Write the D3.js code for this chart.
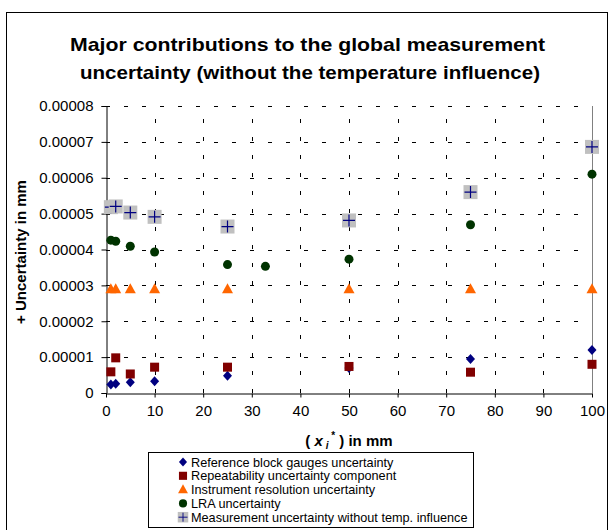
<!DOCTYPE html>
<html lang="en">
<head>
<meta charset="UTF-8">
<title>Major contributions to the global measurement uncertainty</title>
<script src="https://d3js.org/d3.v7.min.js"></script>
<style>
    body { margin: 0; background: white; font-family: "Liberation Sans", Arial, sans-serif; }
</style>
</head>
<body>
<div id="chart"></div>
<script>
// data (x in mm, uncertainty in mm)
const refX   = [1, 2, 5, 10, 25, 50, 75, 100];
const refY   = [0.0000024, 0.0000026, 0.0000030, 0.0000033, 0.0000048, 0.0000070, 0.0000095, 0.0000120];
const repX   = [1, 2, 5, 10, 25, 50, 75, 100];
const repY   = [0.0000059, 0.0000098, 0.0000053, 0.0000072, 0.0000072, 0.0000074, 0.0000058, 0.0000080];
const resX   = [1, 2, 5, 10, 25, 50, 75, 100];
const resY   = [0.0000289, 0.0000289, 0.0000289, 0.0000289, 0.0000289, 0.0000289, 0.0000289, 0.0000289];
const lraX   = [1, 2, 5, 10, 25, 32.8, 50, 75, 100];
const lraY   = [0.0000426, 0.0000423, 0.0000409, 0.0000393, 0.0000358, 0.0000353, 0.0000373, 0.0000469, 0.0000610];
const measX  = [1, 2, 5, 10, 25, 50, 75, 100];
const measY  = [0.0000518, 0.0000520, 0.0000503, 0.0000491, 0.0000464, 0.0000481, 0.0000560, 0.0000686];

const seriesNames = [
    "Reference block gauges uncertainty",
    "Repeatability uncertainty component",
    "Instrument resolution uncertainty",
    "LRA uncertainty",
    "Measurement uncertainty without temp. influence"
];
const xTicks = d3.range(0, 101, 10);
const yTicks = d3.range(0, 9).map(d => d * 0.00001);

const width = 614, height = 530;
const plot = { left: 106, right: 592, top: 106, bottom: 393 };

const svg = d3.select("#chart").append("svg")
    .attr("width", width).attr("height", height);

// outer chart border
svg.append("rect")
    .attr("x", 6.5).attr("y", 12.5).attr("width", 601).attr("height", 530)
    .attr("fill", "white").attr("stroke", "black").attr("stroke-width", 1);

const x = d3.scaleLinear().domain([0, 100]).range([plot.left, plot.right]);
const y = d3.scaleLinear().domain([0, 0.00008]).range([plot.bottom, plot.top]);

// title (stretched a bit wider, like the original)
const title = svg.append("g").attr("font-weight", "bold").attr("font-size", 19);
title.append("text").attr("x", 70).attr("y", 51)
    .attr("textLength", 475).attr("lengthAdjust", "spacingAndGlyphs")
    .text("Major contributions to the global measurement");
title.append("text").attr("x", 80).attr("y", 79)
    .attr("textLength", 460).attr("lengthAdjust", "spacingAndGlyphs")
    .text("uncertainty (without the temperature influence)");

// grid
const grid = svg.append("g").attr("stroke", "black").attr("stroke-width", 1).attr("stroke-dasharray", "4,14");
grid.selectAll(".hg").data(yTicks.filter(d => d > 0)).enter().append("line")
    .attr("x1", plot.left).attr("x2", plot.right)
    .attr("y1", d => Math.round(y(d)) + 0.5).attr("y2", d => Math.round(y(d)) + 0.5);
grid.selectAll(".vg").data(xTicks.filter(d => d > 0 && d < 100)).enter().append("line")
    .attr("y1", plot.bottom).attr("y2", plot.top)
    .attr("x1", d => Math.round(x(d)) + 0.5).attr("x2", d => Math.round(x(d)) + 0.5);

// right border of plot area
svg.append("line")
    .attr("x1", x(100) + 0.5).attr("x2", x(100) + 0.5)
    .attr("y1", plot.top).attr("y2", plot.bottom)
    .attr("stroke", "#808080");

// axes
const yAxis = d3.axisLeft(y).tickValues(yTicks).tickSize(5).tickPadding(8)
    .tickFormat(d => d === 0 ? "0" : d.toFixed(5));
svg.append("g").attr("transform", `translate(${plot.left + 0.5},0)`).call(yAxis)
    .call(g => g.selectAll("text").attr("font-size", 15).attr("font-family", "Liberation Sans, Arial").attr("fill", "black"))
    .call(g => g.selectAll("line,path").attr("stroke", "black"));

const xAxis = d3.axisBottom(x).tickValues(xTicks).tickSize(4).tickPadding(8).tickSizeOuter(0);
svg.append("g").attr("transform", `translate(0,${plot.bottom + 0.5})`).call(xAxis)
    .call(g => g.selectAll("text").attr("font-size", 15).attr("font-family", "Liberation Sans, Arial").attr("fill", "black"))
    .call(g => g.selectAll("line,path").attr("stroke", "black"));

// axis titles
svg.append("text")
    .attr("transform", "translate(26,252) rotate(-90)")
    .attr("text-anchor", "middle").attr("font-weight", "bold").attr("font-size", 15)
    .text("+ Uncertainty in mm");

const xt = svg.append("text")
    .attr("x", 349).attr("y", 446)
    .attr("text-anchor", "middle").attr("font-weight", "bold").attr("font-size", 15);
xt.append("tspan").text("( ");
xt.append("tspan").attr("font-style", "italic").text("x");
xt.append("tspan").attr("font-style", "italic").attr("font-size", 10).attr("dy", 3).text(" i");
xt.append("tspan").attr("font-size", 10).attr("dy", -10).text(" *");
xt.append("tspan").attr("dy", 7).text(" ) in mm");

// markers
const symbols = [
    (g) => g.append("path").attr("d", "M0,-5L4.5,0L0,5L-4.5,0Z").attr("fill", "#000080"),
    (g) => g.append("rect").attr("x", -4.5).attr("y", -4.5).attr("width", 9).attr("height", 9).attr("fill", "#800000"),
    (g) => g.append("path").attr("d", "M0,-6L5.5,4L-5.5,4Z").attr("fill", "#FF6600"),
    (g) => g.append("circle").attr("r", 4.5).attr("fill", "#003300"),
    (g) => {
        g.append("rect").attr("x", -7).attr("y", -7).attr("width", 14).attr("height", 14).attr("fill", "#C0C0C0");
        g.append("path").attr("d", "M-6,0H6M0,-6V6").attr("stroke", "#000080").attr("stroke-width", 1.2);
    }
];

const series = [
    { xs: refX, ys: refY },
    { xs: repX, ys: repY },
    { xs: resX, ys: resY },
    { xs: lraX, ys: lraY },
    { xs: measX, ys: measY }
];

series.forEach((s, i) => {
    const pts = s.xs.map((v, k) => [v, s.ys[k]]);
    svg.append("g").selectAll("g").data(pts).enter().append("g")
        .attr("transform", d => `translate(${x(d[0])},${y(d[1])})`)
        .each(function () { symbols[i](d3.select(this)); });
});

// legend
const lg = svg.append("g");
lg.append("rect").attr("x", 148.5).attr("y", 452.5).attr("width", 325).attr("height", 75)
    .attr("fill", "white").attr("stroke", "black");
seriesNames.forEach((name, i) => {
    const yy = 462 + i * 13.8;
    const m = lg.append("g").attr("transform", `translate(183,${yy})` + (i === 4 ? " scale(0.75)" : " scale(0.9)"));
    symbols[i](m);
    lg.append("text").attr("x", 191).attr("y", yy + 4.5)
        .attr("font-size", 12.7).text(name);
});
</script>
</body>
</html>
